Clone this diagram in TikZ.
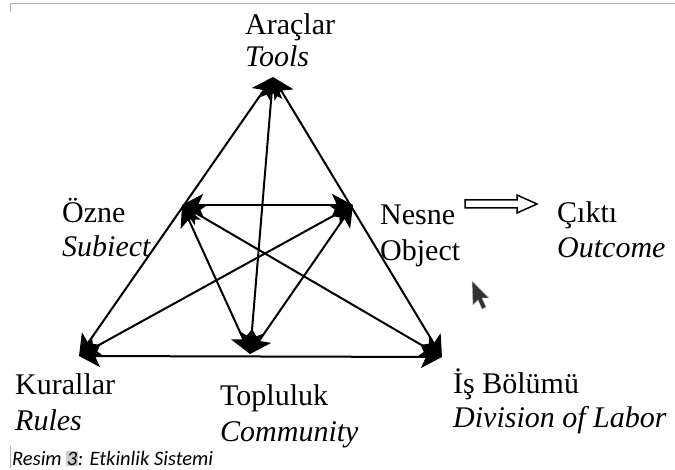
\documentclass[tikz,border=0pt]{standalone}
\usepackage{fontspec}
\setmainfont{Liberation Serif}
\newfontfamily\capfont{Carlito}
\usetikzlibrary{arrows.meta}
\begin{document}
\begin{tikzpicture}[x=1pt,y=-1pt,
  lbl/.style={anchor=base west,inner sep=0pt,font=\fontsize{30}{34}\selectfont},
  ilbl/.style={lbl,font=\fontsize{30}{34}\selectfont\itshape},
  link/.style={line width=2pt,{Stealth[length=21pt,width=22pt,inset=5pt]}-{Stealth[length=21pt,width=22pt,inset=5pt]}},
  frame/.style={draw=gray!60,line width=0.8pt}]
\useasboundingbox (0,0) rectangle (675,470);
% frame remnants
\draw[frame] (10,12) -- (10,3) -- (675,3);
\draw[frame] (10,446) -- (10,468);
% vertices
\coordinate (T) at (273,77);
\coordinate (S) at (182,205);
\coordinate (O) at (353,205);
\coordinate (R) at (79,356);
\coordinate (C) at (250,354);
\coordinate (D) at (442,357);
% connectors
\draw[link] (T) -- (R);
\draw[link] (T) -- (D);
\draw[link] (R) -- (D);
\draw[link] (T) -- (C);
\draw[link] (S) -- (O);
\draw[link] (S) -- (C);
\draw[link] (O) -- (C);
\draw[link] (S) -- (D);
\draw[link] (O) -- (R);
% labels
\node[lbl]  (ar) at (245,35) {Araçlar};
\node[ilbl] (to) at (245,67) {Tools};
\node[lbl]  (oz) at (62,223) {Özne};
\node[ilbl] (su) at (62,257) {Subiect};
\node[lbl]  (ne) at (380,225) {Nesne};
\node[lbl]  (ob) at (380,261) {Object};
\node[lbl]  (ci) at (557,223) {Çıktı};
\node[ilbl] (ou) at (557,258) {Outcome};
\node[lbl]  (ku) at (15,395) {Kurallar};
\node[ilbl] (ru) at (15,430) {Rules};
\node[lbl]  (tp) at (220,406) {Topluluk};
\node[ilbl] (co) at (220,441) {Community};
\node[lbl]  (is) at (453,393) {İş Bölümü};
\node[ilbl] (di) at (453,428) {Division of Labor};
% hollow block arrow
\draw[line width=1.5pt,fill=white] (465,200) -- (517,200) -- (517,195) -- (537,204) -- (517,213) -- (517,208) -- (465,208) -- cycle;
% mouse cursor
\fill[black!80,draw=gray!50,line width=0.4pt] (472,281) -- (473,305) -- (478,300) -- (482,309) -- (486,307) -- (482,298) -- (489,298) -- cycle;
% caption
\node[anchor=base west,inner sep=0pt,font=\capfont\itshape\fontsize{20.5}{23}\selectfont] (cap) at (12,465)
  {Resim \setlength{\fboxsep}{0.6pt}\colorbox{gray!40}{3}: Etkinlik Sistemi};
\end{tikzpicture}
\end{document}
